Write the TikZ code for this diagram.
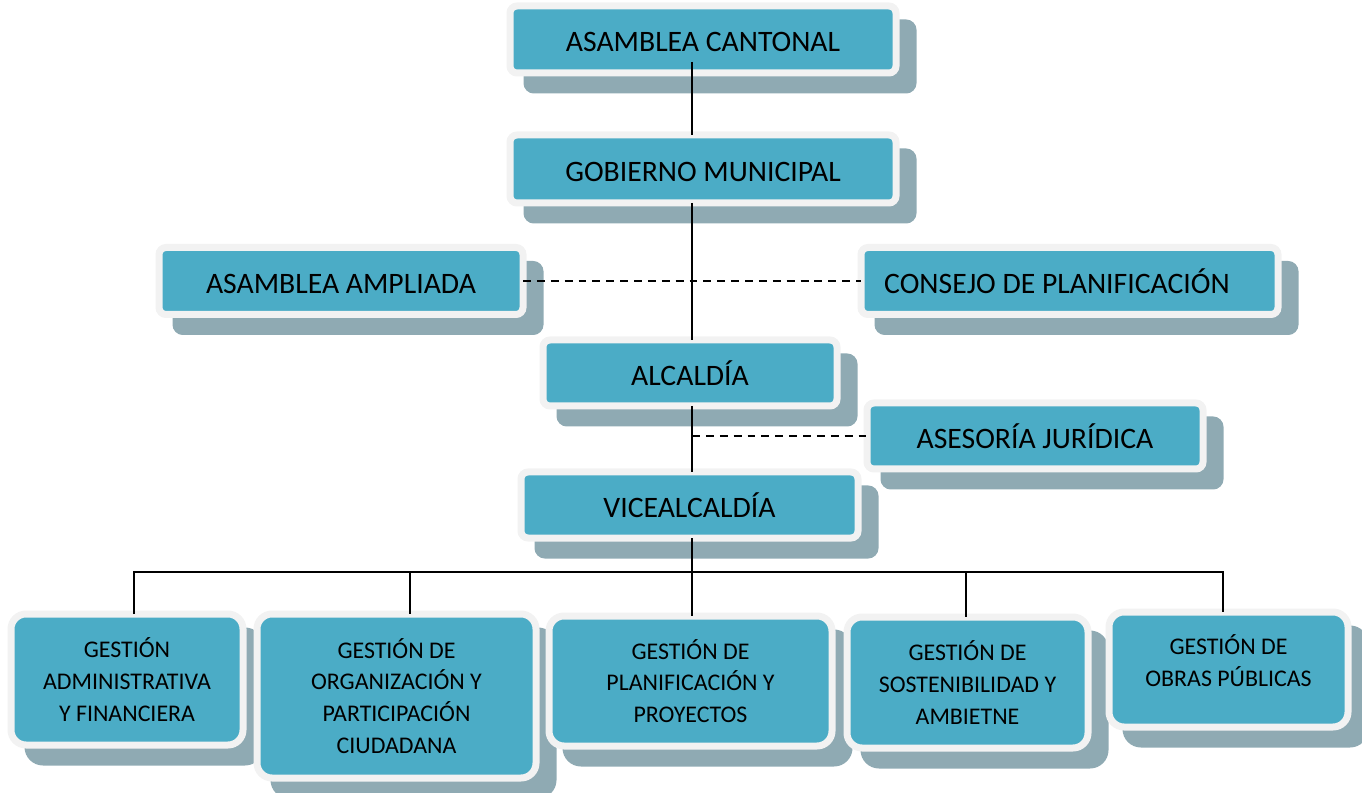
\documentclass[tikz,border=0pt]{standalone}
\usepackage{fontspec}
\setmainfont{Carlito}
\usetikzlibrary{calc}
\newlength\pu
\setlength\pu{0.02cm}
\definecolor{tealfill}{HTML}{4BACC6}
\definecolor{rimgray}{HTML}{F2F2F2}
\definecolor{shadegray}{HTML}{8FAAB3}
\begin{document}
\begin{tikzpicture}[x=0.02cm,y=-0.02cm,
  box/.style={draw=rimgray, fill=tealfill, line width=7\pu, inner sep=0pt, outer sep=0pt,
    align=center, text=black,
    preaction={draw=shadegray, fill=shadegray, line width=7\pu,
      transform canvas={xshift=17\pu,yshift=-17\pu}}},
  topbox/.style={box, rounded corners=7\pu, font=\fontsize{16.9}{20}\selectfont,
    text height=13.7pt, text depth=0pt},
  lowbox/.style={box, rounded corners=15\pu, font=\fontsize{13.6}{18.1}\selectfont},
  link/.style={line width=1.15pt, draw=black},
  dlink/.style={link, dash pattern=on 4.5pt off 3.4pt}]
\useasboundingbox (0,0) rectangle (1362,793);

% top chain
\node[topbox, minimum width=386\pu, minimum height=67\pu] (ac) at (703,39.5) {ASAMBLEA CANTONAL};
\node[topbox, minimum width=386\pu, minimum height=68\pu] (gm) at (703,169) {GOBIERNO MUNICIPAL};
\node[topbox, minimum width=364\pu, minimum height=67\pu] (aa) at (341,281) {ASAMBLEA AMPLIADA};
\node[topbox, minimum width=417\pu, minimum height=67\pu] (cp) at (1069.5,281) {CONSEJO DE PLANIFICACIÓN\hspace{25\pu}};
\node[topbox, minimum width=294\pu, minimum height=66\pu] (al) at (690,373) {ALCALDÍA};
\node[topbox, minimum width=336\pu, minimum height=66\pu] (aj) at (1035,436) {ASESORÍA JURÍDICA};
\node[topbox, minimum width=337\pu, minimum height=66\pu] (va) at (689.5,505) {VICEALCALDÍA};

% bottom row
\node[lowbox, minimum width=232\pu, minimum height=131\pu] (ga) at (127,679.5) {GESTIÓN\\ADMINISTRATIVA\\Y FINANCIERA};
\node[lowbox, minimum width=279\pu, minimum height=164\pu] (go) at (396.5,696) {GESTIÓN DE\\ORGANIZACIÓN Y\\PARTICIPACIÓN\\CIUDADANA};
\node[lowbox, minimum width=283\pu, minimum height=130\pu] (gp) at (690.5,681) {GESTIÓN DE\\PLANIFICACIÓN Y\\PROYECTOS};
\node[lowbox, minimum width=241\pu, minimum height=131\pu] (gs) at (967.5,682.5) {GESTIÓN DE\\SOSTENIBILIDAD Y\\AMBIETNE};
\node[lowbox, minimum width=239\pu, minimum height=115\pu, text depth=10pt] (gb) at (1228.5,669.5) {GESTIÓN DE\\OBRAS PÚBLICAS};

% connectors
\coordinate (spine) at (692,572);
\coordinate (c1) at (134,572);
\coordinate (c2) at (410,572);
\coordinate (c4) at (966,572);
\coordinate (c5) at (1223,572);

\draw[link] ($(ac.south -| spine)+(0,-11)$) -- (gm.north -| spine);
\draw[link] (gm.south -| spine) -- (al.north -| spine);
\draw[link] (al.south -| spine) -- (va.north -| spine);
\draw[link] (va.south -| spine) -- (gp.north -| spine);
\draw[dlink] (aa.east) -- (aa.east -| cp.west);
\draw[dlink] (aj.west -| spine) -- (aj.west);
\draw[link] (c1 |- ga.north) -- (c1) -- (c5) -- (c5 |- gb.north);
\draw[link] (c2) -- (c2 |- go.north);
\draw[link] (c4) -- (c4 |- gs.north);
\end{tikzpicture}
\end{document}
